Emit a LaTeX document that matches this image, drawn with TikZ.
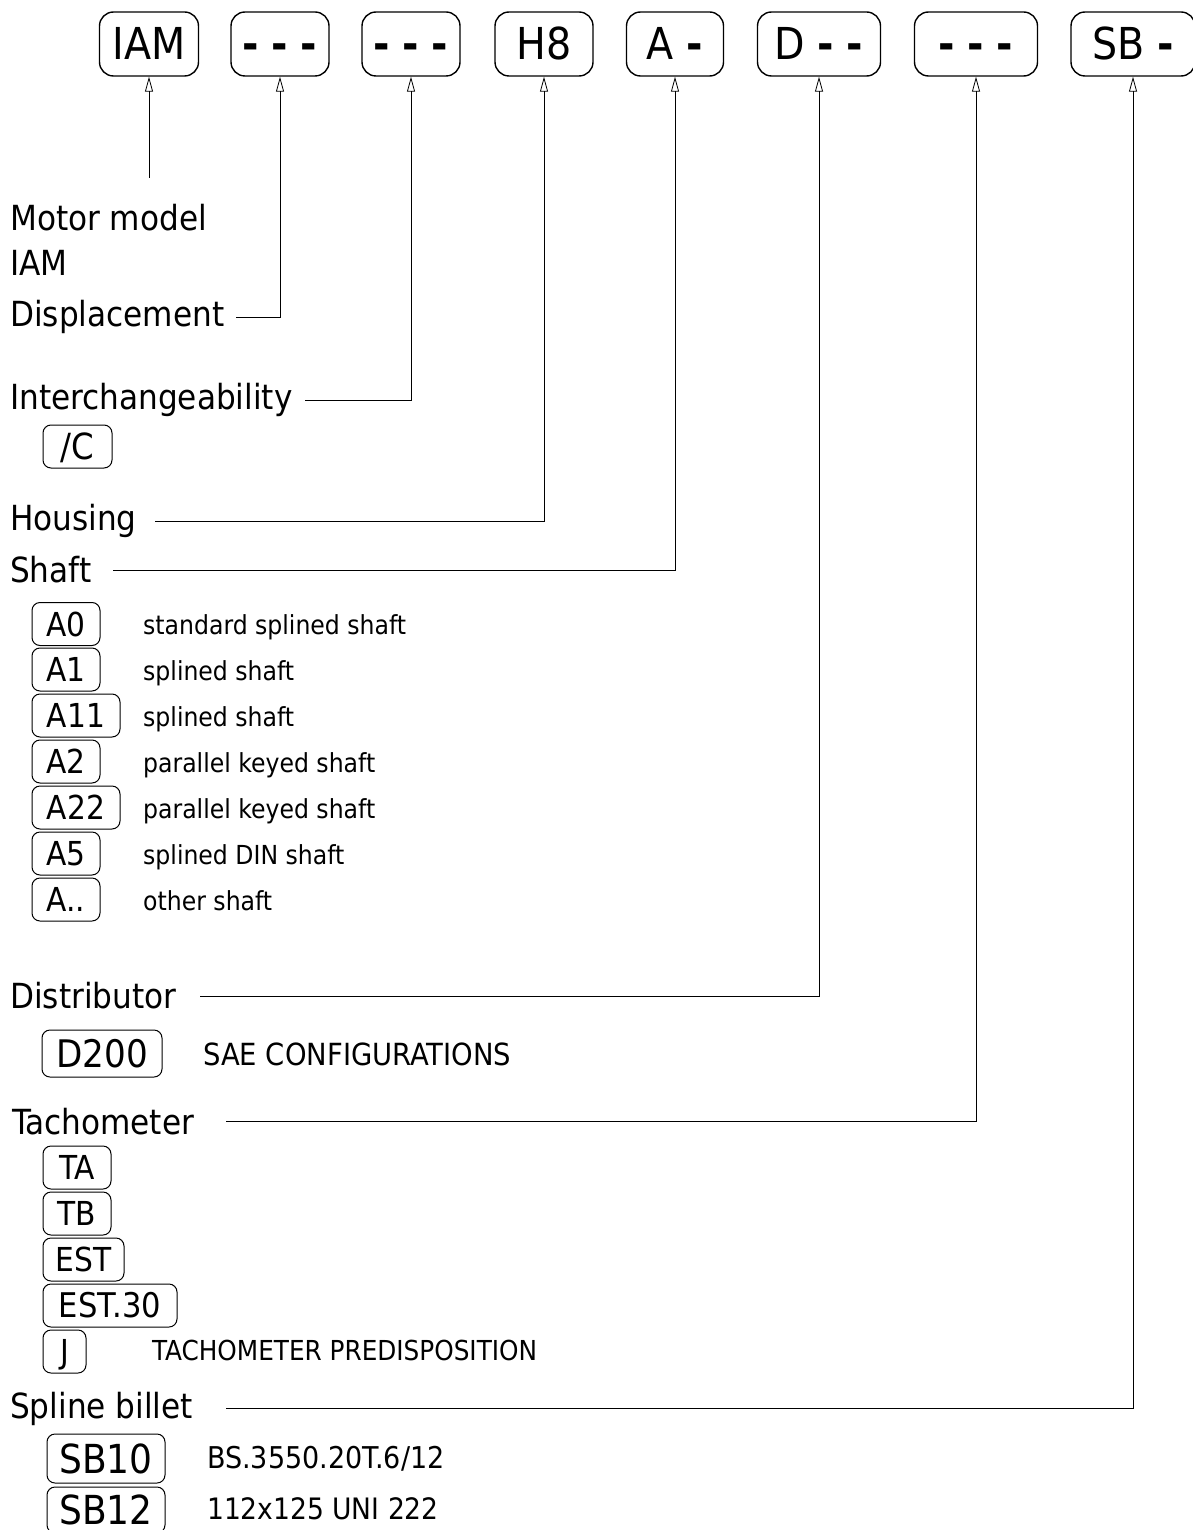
\documentclass[tikz,border=0pt]{standalone}
\usepackage{fontspec}
\setmainfont{DejaVu Sans Condensed}
\usetikzlibrary{arrows.meta}
\newcommand{\hy}{\textbf{-}}
\begin{document}
\begin{tikzpicture}[x=1pt,y=-1pt,
  topbox/.style={draw, line width=1.4pt, rounded corners=14pt, minimum height=64pt, inner sep=0pt, text height=32pt, text depth=0pt, font=\fontsize{44}{50}\selectfont},
  optbox/.style={draw, line width=1pt, rounded corners=8pt, minimum height=43pt, inner sep=0pt, text height=24pt, text depth=0pt, font=\fontsize{33}{38}\selectfont},
  lbl/.style={anchor=base west, inner sep=0pt, font=\fontsize{34.6}{40}\selectfont},
  desc/.style={anchor=base west, inner sep=0pt, font=\fontsize{26.2}{30}\selectfont},
  arr/.style={line width=0.8pt, -{Triangle[open, length=15pt, width=8pt, line width=0.8pt]}}
]
\useasboundingbox (0,0) rectangle (1192,1530);

% top code boxes
\node[topbox, minimum width=99pt]  (bIAM)   at (149,44)  {IAM};
\node[topbox, minimum width=98pt]  (bDisp)  at (280,44)  {\hy{} \hy{} \hy};
\node[topbox, minimum width=98pt]  (bInt)   at (411,44)  {\hy{} \hy{} \hy};
\node[topbox, minimum width=98pt]  (bHous)  at (544,44)  {H8};
\node[topbox, minimum width=97pt]  (bShaft) at (675,44)  {A \hy};
\node[topbox, minimum width=123pt] (bDist)  at (819,44)  {D \hy{} \hy};
\node[topbox, minimum width=123pt] (bTach)  at (976,44)  {\hy{} \hy{} \hy};
\node[topbox, minimum width=124pt] (bSB)    at (1133,44) {SB \hy};

% labels
\node[lbl] (lMotor) at (10,231)  {Motor model};
\node[lbl] (lIAM)   at (10,275)  {IAM};
\node[lbl] (lDisp)  at (10,326)  {Displacement};
\node[lbl] (lInt)   at (10,409)  {Interchangeability};
\node[lbl] (lHous)  at (10,530)  {Housing};
\node[lbl] (lShaft) at (10,582)  {Shaft};
\node[lbl] (lDist)  at (10,1008) {Distributor};
\node[lbl] (lTach)  at (12,1134) {Tachometer};
\node[lbl] (lSpl)   at (10,1418) {Spline billet};

% connector starts
\coordinate (cIAM)   at (149,178);
\coordinate (cDisp)  at (236,317);
\coordinate (cInt)   at (305,400);
\coordinate (cHous)  at (155,521);
\coordinate (cShaft) at (113,570);
\coordinate (cDist)  at (200,996);
\coordinate (cTach)  at (226,1121);
\coordinate (cSB)    at (226,1408);

\draw[arr] (cIAM) -- (bIAM.south);
\draw[arr] (cDisp) -| (bDisp.south);
\draw[arr] (cInt) -| (bInt.south);
\draw[arr] (cHous) -| (bHous.south);
\draw[arr] (cShaft) -| (bShaft.south);
\draw[arr] (cDist) -| (bDist.south);
\draw[arr] (cTach) -| (bTach.south);
\draw[arr] (cSB) -| (bSB.south);

% interchangeability
\node[optbox, minimum width=69pt, text height=26pt, font=\fontsize{36}{40}\selectfont] (oC) at (77.5,446.5) {/C};

% shaft options
\node[optbox, minimum width=68pt] (oA0)  at (66,624)   {A0};
\node[optbox, minimum width=68pt] (oA1)  at (66,669.5) {A1};
\node[optbox, minimum width=88pt] (oA11) at (76,715.5) {A11};
\node[optbox, minimum width=68pt] (oA2)  at (66,761.5) {A2};
\node[optbox, minimum width=88pt] (oA22) at (76,807.5) {A22};
\node[optbox, minimum width=68pt] (oA5)  at (66,853.5) {A5};
\node[optbox, minimum width=68pt] (oAx)  at (66,899.5) {A..};
\node[desc] (dA0)  at (143,634) {standard splined shaft};
\node[desc] (dA1)  at (143,680) {splined shaft};
\node[desc] (dA11) at (143,726) {splined shaft};
\node[desc] (dA2)  at (143,772) {parallel keyed shaft};
\node[desc] (dA22) at (143,818) {parallel keyed shaft};
\node[desc] (dA5)  at (143,864) {splined DIN shaft};
\node[desc] (dAx)  at (143,910) {other shaft};

% distributor
\node[optbox, minimum width=120pt, minimum height=47pt, text height=28pt, font=\fontsize{38}{44}\selectfont] (oD200) at (102,1053.5) {D200};
\node[desc, font=\fontsize{30.5}{34}\selectfont] (dD200) at (203,1065) {SAE CONFIGURATIONS};

% tachometer
\node[optbox, minimum width=68pt]  (oTA)    at (77,1167.5)  {TA};
\node[optbox, minimum width=68pt]  (oTB)    at (77,1213.5)  {TB};
\node[optbox, minimum width=81pt]  (oEST)   at (83.5,1259.5) {EST};
\node[optbox, minimum width=134pt, font=\fontsize{34}{38}\selectfont] (oEST30) at (110,1305.5) {EST.30};
\node[optbox, minimum width=43pt]  (oJ)     at (64.5,1351.5) {J};
\node[desc, font=\fontsize{27.5}{32}\selectfont] (dJ) at (152,1360) {TACHOMETER PREDISPOSITION};

% spline billet
\node[optbox, minimum width=118pt, minimum height=49pt, text height=29pt, font=\fontsize{40}{46}\selectfont] (oSB10) at (106,1458.5) {SB10};
\node[optbox, minimum width=118pt, minimum height=46pt, text height=29pt, font=\fontsize{40}{46}\selectfont] (oSB12) at (106,1510) {SB12};
\node[desc, font=\fontsize{30}{34}\selectfont] (dSB10) at (207,1468) {BS.3550.20T.6/12};
\node[desc, font=\fontsize{29.5}{34}\selectfont] (dSB12) at (207,1519) {112x125 UNI 222};
\end{tikzpicture}
\end{document}
